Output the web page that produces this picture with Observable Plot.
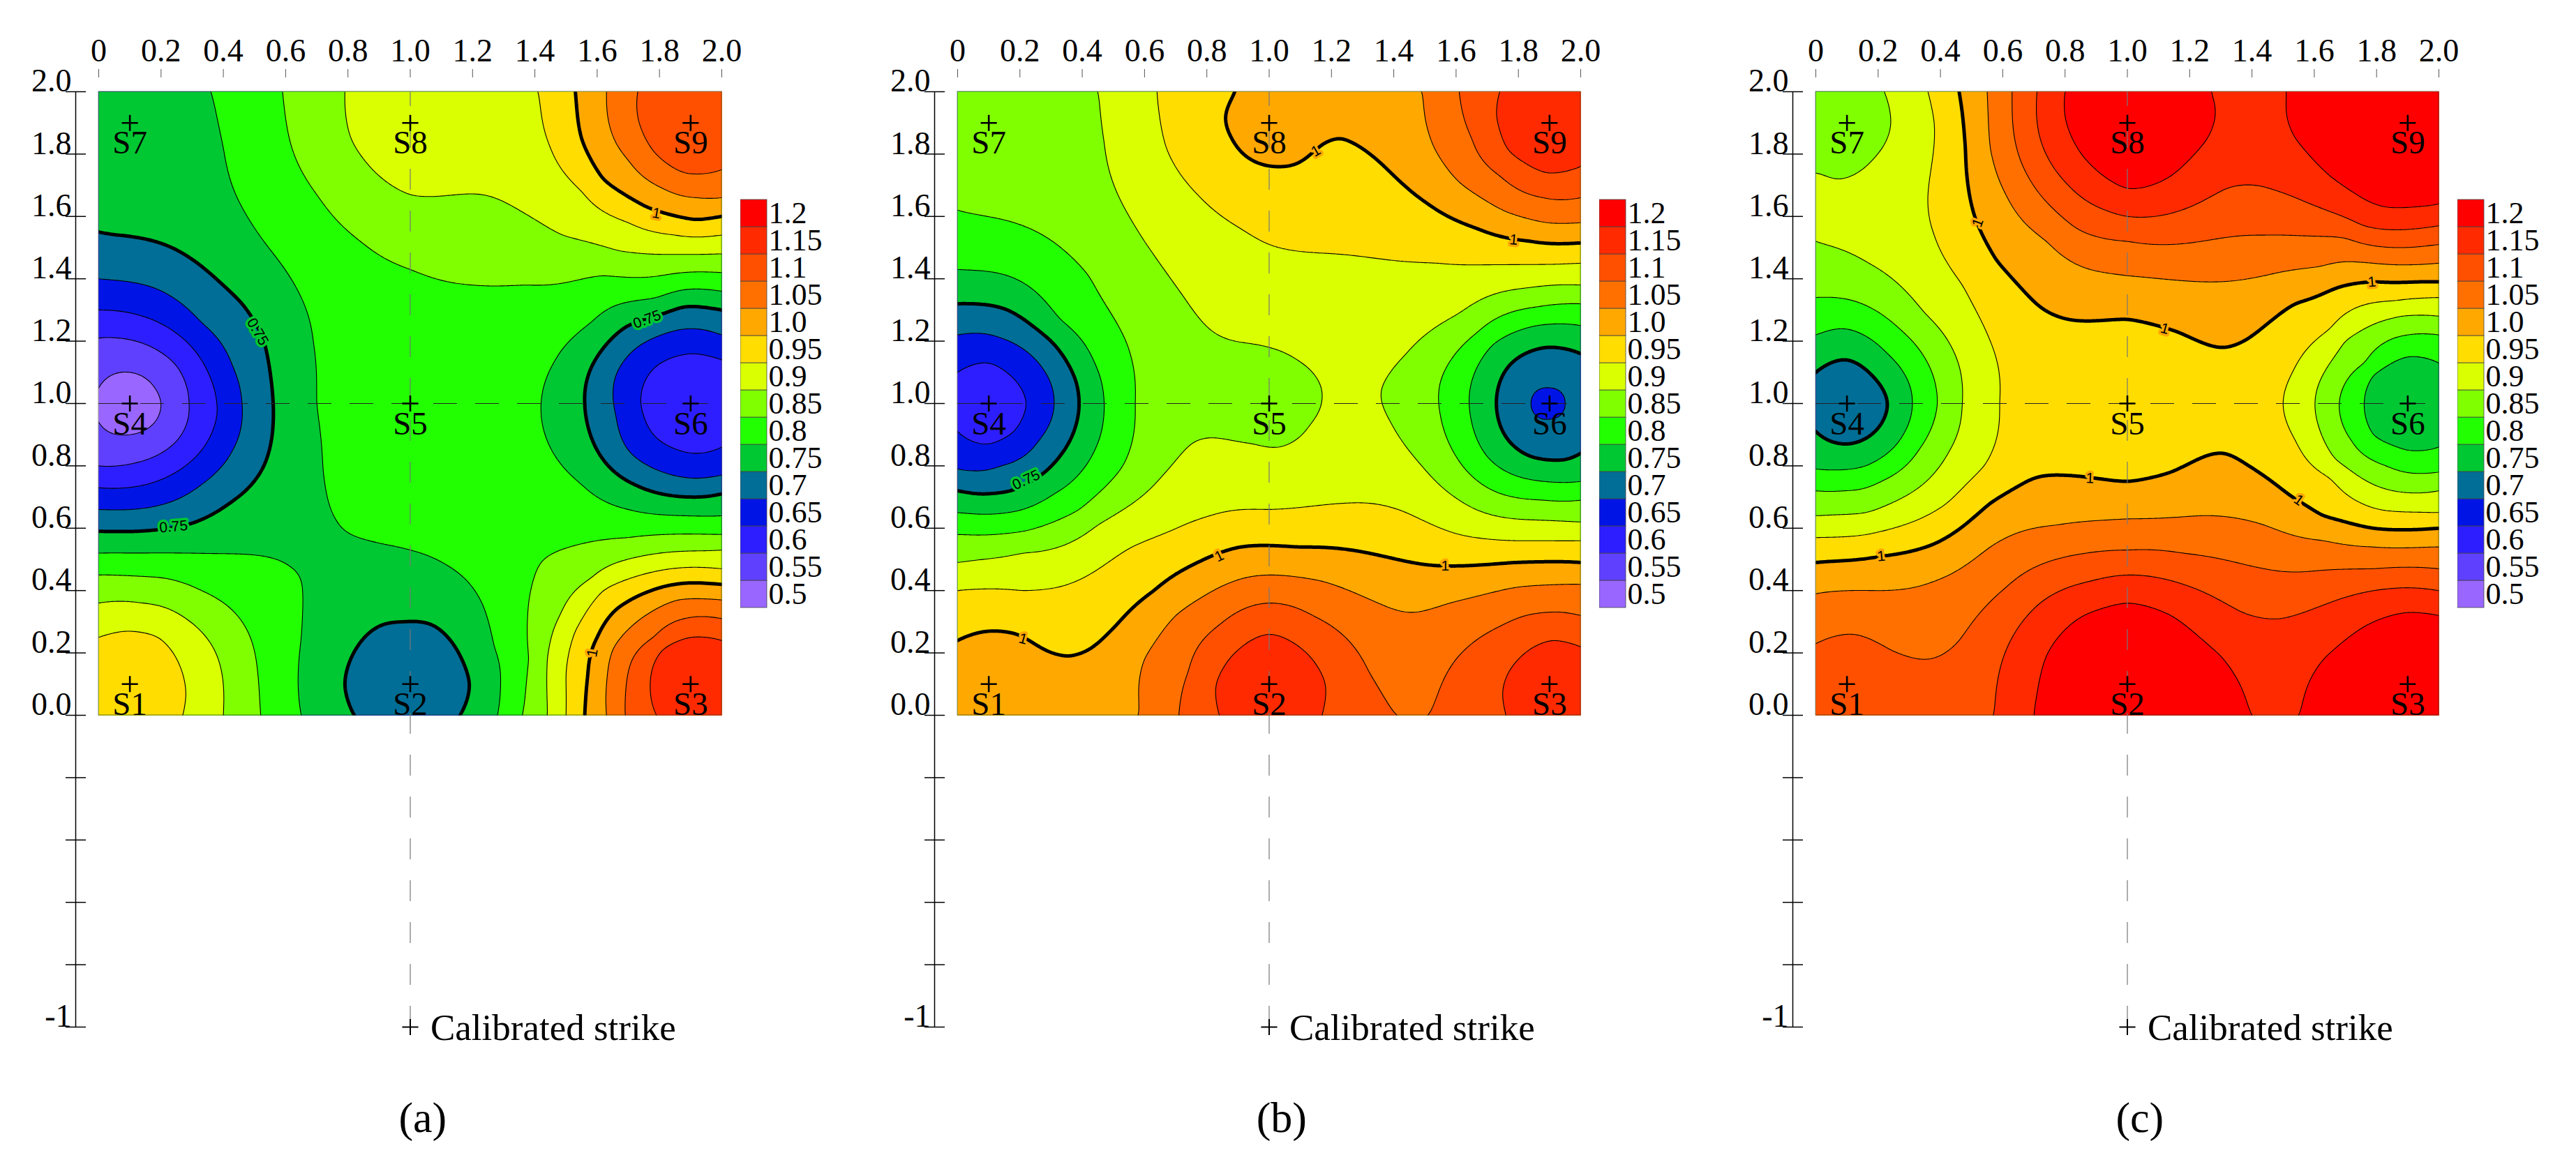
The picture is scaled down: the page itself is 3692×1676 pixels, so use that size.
<!DOCTYPE html>
<html><head><meta charset="utf-8">
<script src="https://cdn.jsdelivr.net/npm/d3@7"></script>
<script src="https://cdn.jsdelivr.net/npm/@observablehq/plot@0.6"></script>
<style>html,body{margin:0;background:#fff}#root{position:relative;width:3692px;height:1676px;overflow:hidden}#root>*{position:absolute}</style>
</head><body><div id="root"></div>
<script>
const levels=[0.5,0.55,0.6,0.65,0.7,0.75,0.8,0.85,0.9,0.95,1,1.05,1.1,1.15,1.2];
const levelLabels=["0.5","0.55","0.6","0.65","0.7","0.75","0.8","0.85","0.9","0.95","1.0","1.05","1.1","1.15","1.2"];
const bandColors=["#9966ff","#6040ff","#2d1eff","#0014e6","#006e96","#00c832","#22ff00","#80ff00","#d9ff00","#ffdd00","#ffa800","#ff7000","#ff5000","#ff2a00","#ff0000"];
const stations=[["S1",.1,.1],["S2",1,.1],["S3",1.9,.1],["S4",.1,1],["S5",1,1],["S6",1.9,1],["S7",.1,1.9],["S8",1,1.9],["S9",1.9,1.9]];
const xTicks=[0,.2,.4,.6,.8,1,1.2,1.4,1.6,1.8,2];
const yLabelled=[0,.2,.4,.6,.8,1,1.2,1.4,1.6,1.8,2,-1];
const yTicks=[-1,-.8,-.6,-.4,-.2,0,.2,.4,.6,.8,1,1.2,1.4,1.6,1.8,2];

// Iso-lines: [level, x,y, x,y, ...]
const isoA=[
[.8,.36,2,.40,1.82,.44,1.67,.53,1.52,.64,1.36,.69,1.19,.70,1,.72,.79,.76,.63,.81,.58,.91,.55,1,.53,1.12,.48,1.23,.36,1.27,.22,1.29,.10,1.28,0],
[.8,0,.52,.30,.52,.53,.51,.61,.48,.65,.43,.65,.25,.64,.10,.65,0],
[.8,2,1.36,1.79,1.34,1.58,1.26,1.46,1.13,1.42,1,1.44,.88,1.55,.74,1.70,.66,1.88,.64,2,.64],
[.85,0,.45,.21,.44,.33,.40,.46,.30,.51,.14,.52,0],
[.85,.59,2,.62,1.82,.70,1.67,.84,1.52,1,1.43,1.20,1.38,1.37,1.38,1.62,1.41,2,1.42],
[.85,2,.58,1.70,.57,1.55,.55,1.42,.49,1.38,.36,1.38,.18,1.36,0],
[.9,0,.36,.14,.36,.28,.31,.38,.19,.40,0],
[.9,.79,2,.81,1.85,.90,1.73,1,1.67,1.23,1.67,1.35,1.62,1.49,1.54,1.67,1.49,2,1.48],
[.9,2,.53,1.74,.51,1.58,.44,1.48,.32,1.44,.18,1.44,0],
[.95,0,.25,.09,.27,.19,.25,.26,.16,.28,.07,.27,0],
[.95,1.41,2,1.45,1.82,1.55,1.68,1.70,1.58,1.85,1.54,2,1.54],
[.95,2,.47,1.78,.46,1.62,.40,1.53,.27,1.50,.13,1.50,0],
[1,1.53,2,1.55,1.85,1.62,1.72,1.76,1.63,1.92,1.59,2,1.60],
[1,2,.42,1.85,.42,1.69,.36,1.60,.25,1.57,.13,1.56,0],
[1.05,1.63,2,1.64,1.89,1.70,1.78,1.81,1.69,1.92,1.66,2,1.66],
[1.05,2,.37,1.86,.37,1.74,.31,1.65,.21,1.63,.10,1.63,0],
[1.1,1.73,2,1.73,1.92,1.78,1.81,1.88,1.74,2,1.75],
[1.1,2,.31,1.88,.31,1.78,.25,1.70,.14,1.69,0],
[1.15,2,.24,1.90,.25,1.81,.21,1.77,.10,1.79,0],
[.75,0,1.55,.18,1.52,.33,1.44,.46,1.32,.53,1.20,.56,1,.53,.80,.42,.68,.28,.61,.12,.59,0,.59],
[.75,2,1.30,1.88,1.31,1.70,1.25,1.60,1.15,1.56,1,1.60,.85,1.72,.74,1.90,.70,2,.71],
[.75,.82,0,.79,.10,.83,.22,.91,.29,.98,.30,1.07,.29,1.15,.21,1.19,.10,1.16,0],
[.7,0,1.40,.18,1.37,.33,1.26,.43,1.12,.46,1,.43,.85,.33,.74,.18,.67,0,.66],
[.7,2,1.22,1.90,1.24,1.76,1.20,1.66,1.09,1.66,.96,1.70,.85,1.81,.78,1.92,.76,2,.77],
[.65,0,1.30,.14,1.28,.28,1.20,.37,1.05,.38,.97,.33,.85,.21,.76,.09,.73,0,.73],
[.65,2,1.14,1.91,1.16,1.79,1.12,1.74,1,1.79,.89,1.91,.84,2,.86],
[.6,0,1.21,.12,1.20,.25,1.12,.29,1,.25,.88,.12,.81,0,.80],
[.55,0,1.05,.10,1.10,.18,1.05,.20,1,.18,.94,.10,.90,.03,.91,0,.94]];
const peaksA=[[.1,1,.52],[1.9,1,.62],[1,.1,.72],[1.9,.1,1.19],[1.9,1.9,1.14],[.1,.1,.975],[1,1,.825],[1,1.9,.925],[.1,1.9,.775],[0,2,.775],[2,2,1.12],[0,0,.97],[2,0,1.17],[0,1.7,.77]];
const labelsA=[["0.75",.51,1.23,60],["0.75",.24,.605,-5],["0.75",1.76,1.27,-20],["1",1.79,1.61,10],["1",1.585,.20,-80]];

const isoB=[
[.9,.45,2,.47,1.84,.51,1.68,.60,1.52,.72,1.35,.82,1.23,.89,1.20,1,1.18,1.09,1.14,1.17,1.02,1.13,.93,1.03,.86,.95,.87,.82,.89,.75,.87,.65,.76,.45,.61,.21,.52,0,.49],
[.85,0,1.62,.21,1.57,.42,1.41,.54,1.20,.57,1,.53,.80,.39,.66,.21,.59,0,.58],
[.8,0,1.43,.16,1.41,.33,1.27,.44,1.13,.47,1.01,.44,.85,.31,.71,.16,.65,0,.65],
[.75,0,1.32,.16,1.30,.30,1.20,.38,1.07,.39,1,.36,.88,.28,.78,.17,.72,.07,.71,0,.72],
[.7,0,1.22,.14,1.21,.26,1.13,.31,1,.26,.88,.14,.80,0,.79],
[.65,0,1.10,.10,1.13,.18,1.08,.22,1,.18,.91,.10,.87,0,.91],
[.9,2,1.38,1.82,1.37,1.61,1.29,1.44,1.16,1.36,1.04,1.39,.94,1.49,.80,1.61,.69,1.79,.63,2,.62],
[.85,2,1.32,1.86,1.31,1.67,1.23,1.55,1.07,1.55,.96,1.60,.83,1.72,.72,1.88,.69,2,.69],
[.8,2,1.25,1.86,1.25,1.72,1.19,1.65,1.07,1.65,.94,1.70,.83,1.82,.76,2,.75],
[.75,2,1.16,1.89,1.18,1.79,1.14,1.73,1.02,1.75,.91,1.84,.83,1.95,.82,2,.84],
[.7,1.84,1,1.90,1.05,1.95,1,1.90,.95],
[.95,.64,2,.67,1.82,.77,1.67,.91,1.56,1,1.51,1.21,1.48,1.54,1.45,2,1.45],
[1,2,1.515,1.84,1.52,1.67,1.56,1.51,1.64,1.37,1.76,1.28,1.83,1.23,1.85,1.17,1.83,1.09,1.77,1.02,1.76,.93,1.79,.88,1.85,.86,1.92,.89,2],
[1.05,1.49,2,1.53,1.82,1.61,1.71,1.75,1.62,1.89,1.58,2,1.58],
[1.1,1.61,2,1.65,1.85,1.74,1.73,1.88,1.66,2,1.66],
[1.15,1.74,2,1.73,1.92,1.77,1.81,1.89,1.74,2,1.76],
[.95,0,.40,.21,.40,.38,.43,.56,.54,.68,.59,.81,.64,1,.66,1.24,.68,1.44,.65,1.61,.58,1.79,.56,2,.56],
[1,2,.49,1.79,.49,1.54,.48,1.32,.52,1.09,.54,.91,.54,.77,.49,.63,.40,.51,.29,.42,.21,.36,.19,.28,.21,.19,.26,.10,.27,0,.24],
[1.05,.58,0,.60,.18,.70,.32,.84,.41,1,.45,1.17,.43,1.35,.36,1.46,.33,1.58,.36,1.79,.41,2,.42],
[1.1,.71,0,.74,.14,.84,.29,1,.36,1.14,.32,1.32,.14,1.41,0],
[1.1,1.51,0,1.60,.18,1.75,.29,1.89,.33,2,.32],
[1.15,.84,0,.83,.10,.88,.19,1,.26,1.12,.20,1.18,.10,1.17,0],
[1.15,1.76,0,1.75,.08,1.81,.19,1.91,.24,2,.22]];
const peaksB=[[.1,1,.63],[1.9,1,.685],[1,.1,1.18],[1.9,.1,1.18],[1.9,1.9,1.17],[.1,.1,1.03],[1,1,.875],[1,1.9,1.03],[.1,1.9,.875],[0,2,.875],[2,2,1.16],[0,0,1.03],[2,0,1.17],[.4,.1,1.03],[1.3,1.93,1.03]];
const labelsB=[["0.75",.22,.755,-25],["1",1.15,1.81,-30],["1",1.785,1.525,5],["1",.84,.51,-25],["1",1.565,.48,0],["1",.21,.245,15]];

const isoC=[
[.9,.22,2,.24,1.89,.19,1.79,.07,1.72,0,1.74],
[.95,.36,2,.38,1.90,.36,1.67,.38,1.54,.47,1.38,.56,1.20,.59,1,.54,.80,.42,.68,.21,.59,0,.57],
[1,.46,2,.48,1.82,.51,1.60,.58,1.46,.72,1.31,.81,1.27,1,1.27,1.16,1.23,1.31,1.18,1.39,1.21,1.54,1.32,1.67,1.37,1.79,1.39,2,1.39],
[1.05,.55,2,.56,1.82,.61,1.67,.74,1.52,.88,1.43,1,1.41,1.26,1.39,1.44,1.41,1.62,1.44,2,1.45],
[1.1,.63,2,.64,1.84,.72,1.67,.84,1.56,1,1.52,1.09,1.51,1.44,1.54,1.70,1.53,2,1.51],
[1.15,.71,2,.72,1.85,.81,1.70,.93,1.62,1,1.60,1.14,1.61,1.32,1.69,1.41,1.70,1.54,1.66,1.76,1.57,2,1.57],
[1.2,.80,2,.80,1.92,.86,1.79,1,1.69,1.14,1.73,1.25,1.84,1.28,1.96,1.27,2],
[1.2,1.51,2,1.54,1.85,1.65,1.73,1.83,1.63,2,1.64],
[.9,0,1.52,.17,1.45,.35,1.29,.46,1.12,.47,1,.43,.85,.30,.71,.16,.65,0,.64],
[.85,0,1.34,.17,1.31,.31,1.20,.39,1,.33,.85,.21,.75,.09,.72,0,.72],
[.8,0,1.22,.09,1.24,.23,1.16,.31,1,.26,.87,.16,.80,0,.79],
[.75,0,1.10,.10,1.14,.19,1.08,.23,1,.19,.91,.10,.87,0,.91],
[.95,2,1.34,1.86,1.33,1.65,1.24,1.53,1.10,1.50,1,1.54,.88,1.65,.76,1.81,.66,2,.65],
[.9,2,1.28,1.88,1.28,1.70,1.20,1.61,1.05,1.61,.94,1.67,.82,1.79,.74,2,.72],
[.85,2,1.22,1.90,1.22,1.76,1.13,1.68,1,1.72,.88,1.83,.80,2,.78],
[.8,2,1.13,1.90,1.15,1.79,1.09,1.76,1,1.79,.90,1.90,.85,2,.86],
[1,0,.49,.21,.51,.38,.55,.56,.68,.70,.76,.79,.77,1,.75,1.14,.78,1.31,.84,1.39,.80,1.53,.70,1.63,.64,1.79,.60,2,.60],
[1.05,0,.39,.21,.40,.38,.43,.56,.54,.77,.61,1,.63,1.23,.64,1.44,.61,1.63,.56,1.79,.54,2,.54],
[1.1,0,.23,.12,.26,.24,.21,.36,.18,.46,.24,.61,.41,.81,.51,1,.53,1.18,.52,1.44,.47,1.56,.46,1.79,.47,2,.47],
[1.15,.57,0,.60,.18,.72,.36,.88,.43,1,.45,1.18,.42,1.37,.33,1.49,.31,1.62,.35,1.79,.40,2,.40],
[1.2,.70,0,.74,.19,.86,.32,1,.36,1.14,.32,1.30,.19,1.40,0],
[1.2,1.55,0,1.63,.18,1.77,.29,1.90,.33,2,.32]];
const peaksC=[[.1,1,.715],[1.9,1,.775],[1,.1,1.23],[1.9,.1,1.23],[1,1.9,1.23],[1.9,1.9,1.24],[.1,.1,1.13],[1,1,.975],[.1,1.9,.875],[0,2,.875],[2,2,1.24],[0,0,1.13],[2,0,1.23]];
const labelsC=[["1",.52,1.58,-70],["1",1.12,1.24,15],["1",1.785,1.39,-5],["1",.21,.51,-5],["1",.88,.76,3],["1",1.55,.69,35]];

const serif="Liberation Serif";
function table(iso,peaks){
  const seen=new Set(),out=[];
  const add=(x,y,v)=>{const k=x+","+y;if(!seen.has(k)){seen.add(k);out.push({x,y,v});}};
  for(const [x,y,v] of peaks)add(x,y,v);
  for(const row of iso){for(let i=1;i<row.length;i+=2)add(row[i],row[i+1],row[0]);}
  return out;
}
// Smooth surface through the read points for Plot.contour's interpolate hook.
function surface(){
  let cache=null;
  return (index,width,height,X,Y,V)=>{
    if(cache)return cache.slice();
    const n=index.length,m=n+3,px=[],py=[];
    for(const i of index){px.push(X[i]/width);py.push(Y[i]/width);}
    const A=[];
    for(let a=0;a<m;a++){A.push(new Float64Array(m+1));}
    for(let a=0;a<n;a++){
      for(let b=0;b<n;b++){
        const dx=px[a]-px[b],dy=py[a]-py[b],r2=dx*dx+dy*dy;
        A[a][b]=r2>0?.5*r2*Math.log(r2):1e-5;
      }
      A[a][n]=1;A[a][n+1]=px[a];A[a][n+2]=py[a];
      A[n][a]=1;A[n+1][a]=px[a];A[n+2][a]=py[a];
      A[a][m]=V[index[a]];
    }
    for(let c=0;c<m;c++){
      let p=c;for(let r=c+1;r<m;r++)if(Math.abs(A[r][c])>Math.abs(A[p][c]))p=r;
      [A[c],A[p]]=[A[p],A[c]];
      for(let r=c+1;r<m;r++){
        const f=A[r][c]/A[c][c];if(!f)continue;
        for(let k=c;k<=m;k++)A[r][k]-=f*A[c][k];
      }
    }
    const w=new Float64Array(m);
    for(let r=m-1;r>=0;r--){
      let s=A[r][m];for(let k=r+1;k<m;k++)s-=A[r][k]*w[k];
      w[r]=s/A[r][r];
    }
    const W=new Float64Array(width*height);
    for(let j=0;j<height;j++){
      const gy=(j+.5)/width;
      for(let i=0;i<width;i++){
        const gx=(i+.5)/width;
        let s=w[n]+w[n+1]*gx+w[n+2]*gy;
        for(let a=0;a<n;a++){
          const dx=gx-px[a],dy=gy-py[a],r2=dx*dx+dy*dy;
          if(r2>0)s+=w[a]*.5*r2*Math.log(r2);
        }
        W[j*width+i]=s;
      }
    }
    cache=W;
    return W.slice();
  };
}
function panel(iso,peaks,labels,caption,left){
  const pts=table(iso,peaks);
  const lab=labels.map(([t,x,y,r])=>({t,x,y,r,h:t==="1"?bandColors[10]:bandColors[5]}));
  const contourBase={x:"x",y:"y",value:"v",interpolate:surface(),blur:1,pixelSize:2,x1:-.03,x2:2.03,y1:-.03,y2:2.03};
  const plot=Plot.plot({
    width:1230,height:1676,marginLeft:141,marginRight:196,marginTop:131,marginBottom:204,
    style:{fontFamily:serif,background:"transparent",color:"#000"},
    x:{domain:[0,2],axis:null},y:{domain:[-1,2],axis:null},
    color:{type:"threshold",domain:levels.slice(1),range:bandColors},
    marks:[
      Plot.contour(pts,{...contourBase,thresholds:levels,fill:"value",stroke:"#000",strokeWidth:1.1}),
      Plot.contour(pts,{...contourBase,thresholds:[.75,1],fill:"none",stroke:"#000",strokeWidth:5}),
      Plot.rect([0],{x1:0,x2:2,y1:0,y2:2,fill:"none",stroke:"#333",strokeWidth:1,strokeOpacity:.6}),
      Plot.ruleY([1],{x1:0,x2:2,stroke:"#222",strokeWidth:1,strokeDasharray:"34 26"}),
      Plot.ruleX([1],{y1:-1,y2:2,stroke:"#777",strokeWidth:1.2,strokeDasharray:"30 30"}),
      Plot.text(lab,{x:"x",y:"y",text:"t",rotate:"r",fontSize:21,fontFamily:"Liberation Sans",fill:"#000",stroke:"h",strokeWidth:7,paintOrder:"stroke"}),
      Plot.dot(stations,{x:d=>d[1],y:d=>d[2],symbol:"plus",r:7.5,stroke:"#000",strokeWidth:2.6}),
      Plot.text(stations,{x:d=>d[1],y:d=>d[2],text:d=>d[0],dy:29,fontSize:47,fill:"#000"}),
      Plot.ruleX([0],{y1:-1,y2:2,dx:-33,stroke:"#000",strokeWidth:1.5}),
      Plot.axisY(yTicks,{anchor:"left",label:null,tickSize:29,dx:-18,tickFormat:()=>"",stroke:"#000",strokeWidth:1.5}),
      Plot.axisY(yLabelled,{anchor:"left",label:null,tickSize:0,tickPadding:39,dy:-15,fontSize:46,fill:"#000",tickFormat:d=>d===-1?"-1":d.toFixed(1)}),
      Plot.axisX(xTicks,{anchor:"top",label:null,tickSize:12,dy:-21,tickFormat:()=>"",stroke:"#555"}),
      Plot.axisX(xTicks,{anchor:"top",label:null,tickSize:0,tickPadding:44,lineAnchor:"bottom",fontSize:46,fill:"#000",tickFormat:d=>d===0?"0":d.toFixed(1)}),
      Plot.dot([0],{x:[1],y:[-1],symbol:"plus",r:7.5,stroke:"#000",strokeWidth:2}),
      Plot.text(["Calibrated strike"],{x:[1],y:[-1],dx:29,dy:2,textAnchor:"start",fontSize:53,fill:"#000"}),
      Plot.text([caption],{x:[1.04],y:[-1.293],fontSize:62,fill:"#000"})
    ]
  });
  const sx=plot.scale("x"),sy=plot.scale("y");
  const id="clip"+caption.replace(/\W/g,"");
  const NS="http://www.w3.org/2000/svg";
  const cp=document.createElementNS(NS,"clipPath");cp.setAttribute("id",id);
  const r=document.createElementNS(NS,"rect");
  r.setAttribute("x",sx.apply(0));r.setAttribute("y",sy.apply(2));
  r.setAttribute("width",sx.apply(2)-sx.apply(0));r.setAttribute("height",sy.apply(0)-sy.apply(2));
  cp.appendChild(r);plot.prepend(cp);
  plot.querySelectorAll('g[aria-label="contour"]').forEach(g=>g.setAttribute("clip-path",`url(#${id})`));
  plot.style.left=left+"px";plot.style.top="0px";
  const legend=Plot.plot({
    width:190,height:596,marginLeft:0,marginRight:152,marginTop:0,marginBottom:0,
    style:{fontFamily:serif,background:"transparent",color:"#000"},
    x:{axis:null},y:{domain:levelLabels.slice().reverse(),padding:0,axis:null},
    marks:[
      Plot.cell(levelLabels,{y:d=>d,fill:(d,i)=>bandColors[i],stroke:"#444",strokeWidth:.8}),
      Plot.axisY(levelLabels,{anchor:"right",label:null,tickSize:0,tickPadding:2,fontSize:44,fill:"#000"})
    ]
  });
  legend.style.left=(left+1061)+"px";legend.style.top="280px";
  document.getElementById("root").append(plot,legend);
}
panel(isoA,peaksA,labelsA,"(a)",0);
panel(isoB,peaksB,labelsB,"(b)",1231);
panel(isoC,peaksC,labelsC,"(c)",2461);
</script></body></html>
